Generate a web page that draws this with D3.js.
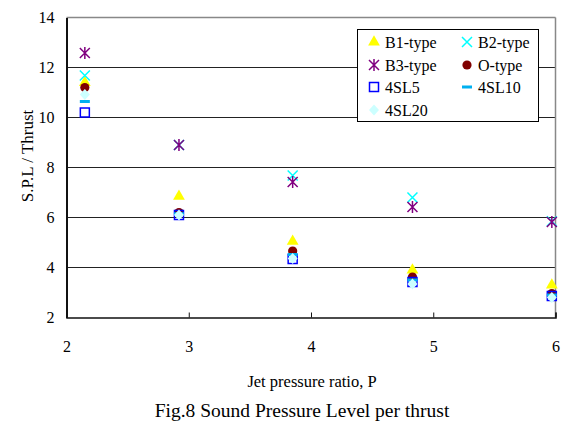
<!DOCTYPE html>
<html><head><meta charset="utf-8">
<script src="https://cdn.jsdelivr.net/npm/d3@7"></script>
<style>body{margin:0;background:#fff}svg{display:block}</style>
</head><body><svg id="c" width="568" height="421" style="font-family:'Liberation Serif','Times New Roman',serif"></svg>
<script>
const P = [2.15, 2.92, 3.85, 4.83, 5.97];
const B1 = [11.4, 6.85, 5.05, 3.9, 3.3];
const B2 = [11.68, 8.9, 7.68, 6.8, 5.85];
const B3 = [12.58, 8.9, 7.42, 6.42, 5.82];
const O  = [11.2, 6.2, 4.66, 3.62, 2.96];
const SL5 = [10.2, 6.1, 4.34, 3.42, 2.86];
const SL10 = [10.64, 6.15, 4.52, 3.5, 2.9];
const SL20 = [10.92, 6.1, 4.36, 3.34, 2.8];
const xTicks = [2, 3, 4, 5, 6];
const yTicks = [2, 4, 6, 8, 10, 12, 14];
const seriesNames = ["B1-type","B2-type","B3-type","O-type","4SL5","4SL10","4SL20"];
const seriesVals = [B1,B2,B3,O,SL5,SL10,SL20];
const FONT = "'Liberation Serif','Times New Roman',serif";

const svg = d3.select("#c");
const x = d3.scaleLinear().domain([2,6]).range([66.5,555.5]);
const y = d3.scaleLinear().domain([2,14]).range([317.5,17.5]);

svg.append("g").selectAll("line").data(yTicks.filter(d=>d>2&&d<14)).join("line")
  .attr("x1",x(2)).attr("x2",x(6)).attr("y1",d=>y(d)).attr("y2",d=>y(d))
  .attr("stroke","#222").attr("stroke-width",1);
svg.append("line").attr("x1",x(2)).attr("x2",x(6)).attr("y1",y(14)).attr("y2",y(14)).attr("stroke","#888").attr("stroke-width",1.5);
svg.append("line").attr("x1",x(6)).attr("x2",x(6)).attr("y1",y(14)).attr("y2",y(2)).attr("stroke","#888").attr("stroke-width",1.5);

const xAxis = d3.axisBottom(x).tickValues(xTicks).tickSize(-5).tickPadding(23).tickFormat(d3.format("d"));
const gx = svg.append("g").attr("transform",`translate(0,${y(2)})`).call(xAxis);
gx.attr("font-family",FONT);
gx.select(".domain").attr("stroke","#111").attr("stroke-width",1.5);
gx.selectAll(".tick line").attr("stroke","#111");
gx.selectAll("text").attr("font-size",16).attr("fill","#000");
const yAxis = d3.axisLeft(y).tickValues(yTicks).tickSize(0).tickPadding(12).tickFormat(d3.format("d"));
const gy = svg.append("g").attr("transform",`translate(${x(2)},0)`).call(yAxis);
gy.attr("font-family",FONT);
gy.select(".domain").attr("stroke","#111").attr("stroke-width",2);
gy.selectAll("text").attr("font-size",16).attr("fill","#000");

svg.append("text").attr("x",312).attr("y",387).attr("text-anchor","middle").attr("font-size",16.5).text("Jet pressure ratio, P");
svg.append("text").attr("transform","translate(33,156) rotate(-90)").attr("text-anchor","middle").attr("font-size",17).text("S.P.L / Thrust");
svg.append("text").attr("x",302).attr("y",417).attr("text-anchor","middle").attr("font-size",19.5).text("Fig.8 Sound Pressure Level per thrust");

function marker(g, i) {
  switch(i){
    case 0: g.append("path").attr("d",d3.symbol(d3.symbolTriangle,60)()).attr("fill","#FFFF00"); break;
    case 1: g.append("path").attr("d","M-5,-5L5,5M-5,5L5,-5").attr("stroke","#00FFFF").attr("stroke-width",1.5).attr("fill","none"); break;
    case 2: g.append("path").attr("d","M-5,-5L5,5M-5,5L5,-5M0,-6L0,6").attr("stroke","#800080").attr("stroke-width",1.5).attr("fill","none"); break;
    case 3: g.append("circle").attr("r",4.6).attr("fill","#800000"); break;
    case 4: g.append("rect").attr("x",-4.5).attr("y",-4.5).attr("width",9).attr("height",9).attr("fill","none").attr("stroke","#0000FF").attr("stroke-width",1.5); break;
    case 5: g.append("rect").attr("x",-5).attr("y",-1.5).attr("width",10).attr("height",3).attr("fill","#00B0F0"); break;
    case 6: g.append("path").attr("d","M0,-5.5L5,0L0,5.5L-5,0Z").attr("fill","#CCFFFF"); break;
  }
}
seriesVals.forEach((vals,i)=>{
  const gs = svg.append("g");
  vals.forEach((v,j)=>{
    const g = gs.append("g").attr("transform",`translate(${x(P[j])},${y(v)})`);
    marker(g,i);
  });
});

const lg = svg.append("g");
lg.append("rect").attr("x",357.5).attr("y",29.5).attr("width",181).attr("height",92).attr("fill","#fff").attr("stroke","#000").attr("stroke-width",1);
const lpos = [[374,42],[467,42],[374,65],[467,65],[374,87],[467,87],[374,110]];
seriesNames.forEach((n,i)=>{
  const [lx,ly] = lpos[i];
  const g = lg.append("g").attr("transform",`translate(${lx},${ly})`);
  marker(g,i);
  lg.append("text").attr("x",lx+11).attr("y",ly+5.5).attr("font-size",16).text(n);
});
</script></body></html>
